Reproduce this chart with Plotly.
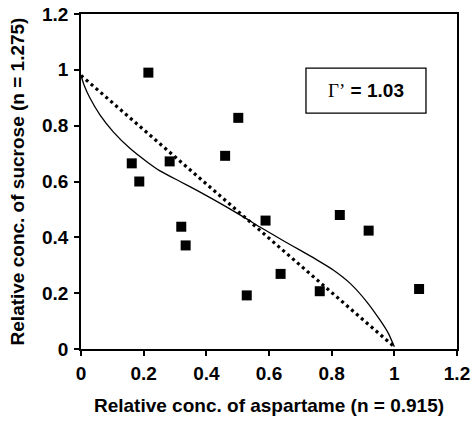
import plotly.graph_objects as go

# Observed data points (relative conc. aspartame, relative conc. sucrose)
obs_x = [0.215, 0.162, 0.186, 0.283, 0.320, 0.334, 0.460, 0.502, 0.529, 0.589, 0.637, 0.762, 0.826, 0.918, 1.079]
obs_y = [0.990, 0.665, 0.600, 0.672, 0.438, 0.371, 0.692, 0.828, 0.192, 0.460, 0.269, 0.207, 0.480, 0.424, 0.215]

# Solid isobole curve
curve_x = [0, 0.01, 0.029, 0.061, 0.103, 0.156, 0.21, 0.252, 0.316, 0.37, 0.422, 0.475, 0.529, 0.571,
           0.65, 0.699, 0.75, 0.805, 0.859, 0.912, 0.954, 0.981, 1.0]
curve_y = [0.98, 0.945, 0.898, 0.838, 0.778, 0.719, 0.671, 0.638, 0.600, 0.568, 0.536, 0.502, 0.466, 0.437,
           0.385, 0.354, 0.321, 0.283, 0.235, 0.169, 0.104, 0.056, 0.008]

# Dotted additivity line
add_x = [0.0, 1.0]
add_y = [0.98, 0.008]

x_title = "Relative conc. of aspartame (n = 0.915)"
y_title = "Relative conc. of sucrose (n = 1.275)"
gamma_text = "<span style='font-family:Liberation Serif;font-weight:normal'>Γ’</span><b> = 1.03</b>"

fig = go.Figure()
fig.add_trace(go.Scatter(x=curve_x, y=curve_y, mode="lines",
                         line=dict(color="black", width=1.3, shape="spline", smoothing=0.6),
                         showlegend=False, hoverinfo="skip"))
fig.add_trace(go.Scatter(x=add_x, y=add_y, mode="lines",
                         line=dict(color="black", width=3.2, dash="3px,3.5px"),
                         showlegend=False, hoverinfo="skip"))
fig.add_trace(go.Scatter(x=obs_x, y=obs_y, mode="markers",
                         marker=dict(symbol="square", size=10, color="black"),
                         showlegend=False))

fig.add_shape(type="rect", xref="x", yref="y", x0=0.718, x1=1.101, y0=0.845, y1=1.006,
              line=dict(color="black", width=1.3), fillcolor="white", layer="below")
fig.add_annotation(x=0.9095, y=0.9255, xref="x", yref="y", text=gamma_text,
                   showarrow=False, font=dict(family="Liberation Sans", size=19, color="black"))

axis_common = dict(range=[0, 1.2], dtick=0.2, showgrid=False, zeroline=False,
                   showline=True, mirror=True, linecolor="black", linewidth=1.5,
                   ticks="outside", ticklen=5, tickwidth=1.5, tickcolor="black",
                   automargin=False,
                   tickfont=dict(family="Liberation Sans", size=19, color="black", weight="bold"))

fig.update_xaxes(**axis_common, ticklabelstandoff=1,
                 title=dict(text=x_title, standoff=16,
                            font=dict(family="Liberation Sans", size=19, color="black", weight="bold")))
fig.update_yaxes(**axis_common, ticklabelstandoff=2,
                 title=dict(text=y_title, standoff=12,
                            font=dict(family="Liberation Sans", size=19, color="black", weight="bold")))

fig.update_layout(width=474, height=425, margin=dict(l=81, r=17, t=14, b=76),
                  plot_bgcolor="white", paper_bgcolor="white")

fig.write_html("out.html", config={"displayModeBar": False},
               post_script="document.body.style.margin='0';document.body.style.padding='0';")
